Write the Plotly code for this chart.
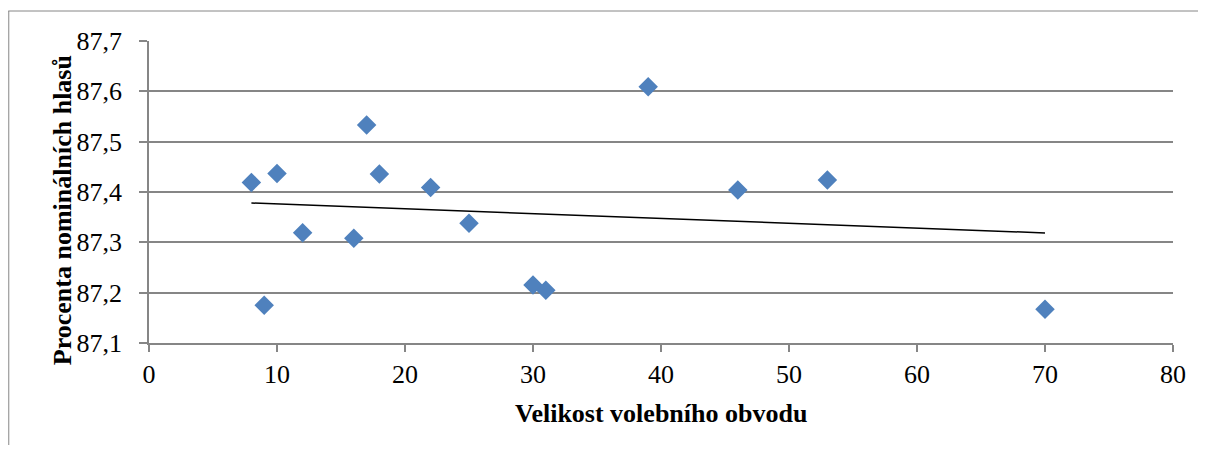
import numpy as np
import plotly.graph_objects as go

# Data
velikost = [8, 9, 10, 12, 16, 17, 18, 22, 25, 30, 31, 39, 46, 53, 70]
procenta = [87.419, 87.175, 87.437, 87.319, 87.308, 87.533, 87.436, 87.409,
            87.338, 87.215, 87.205, 87.609, 87.404, 87.424, 87.167]
y_ticks = [87.1, 87.2, 87.3, 87.4, 87.5, 87.6, 87.7]
x_ticks = [0, 10, 20, 30, 40, 50, 60, 70, 80]

x_title = "Velikost volebního obvodu"
y_title = "Procenta nominálních hlasů"

# linear trend line
slope, intercept = np.polyfit(velikost, procenta, 1)
trend_x = [min(velikost), max(velikost)]
trend_y = [slope * v + intercept for v in trend_x]

# page has an 8px body margin, so the figure is sized to fit inside it
OFF = 8
W, H = 1206 - 2 * OFF, 453 - 2 * OFF
L, T = 149 - OFF, 41 - OFF
R = W - (1175 - OFF)
B = H - (343 - OFF)
pw, ph = W - L - R, H - T - B

def px(x):
    return (x - OFF - L) / pw

def py(y):
    return (H - B - (y - OFF)) / ph

grey = "#868686"
font = "Liberation Serif"

fig = go.Figure()
fig.add_trace(go.Scatter(x=trend_x, y=trend_y, mode="lines",
                         line=dict(color="black", width=1.5),
                         hoverinfo="skip", showlegend=False))
fig.add_trace(go.Scatter(x=velikost, y=procenta, mode="markers",
                         marker=dict(symbol="diamond", size=15, color="#4F81BD",
                                     line=dict(width=0)),
                         showlegend=False))

fig.update_layout(
    width=W, height=H,
    margin=dict(l=L, r=R, t=T, b=B, pad=0),
    paper_bgcolor="white", plot_bgcolor="white",
    separators=", ",
    font=dict(family=font, size=26, color="black"),
    xaxis=dict(range=[0, 80], tickvals=x_ticks, showgrid=False, zeroline=False,
               showline=True, linecolor=grey, linewidth=1.5,
               ticks="outside", ticklen=7, tickcolor=grey, tickwidth=1.5,
               tickfont=dict(family=font, size=26, color="black")),
    yaxis=dict(range=[87.1, 87.7], tickvals=y_ticks, tickformat=".1f",
               showgrid=True, gridcolor=grey, gridwidth=1.5, zeroline=False,
               showline=True, linecolor=grey, linewidth=1.5,
               ticks="outside", ticklen=8, tickcolor=grey, tickwidth=1.5,
               ticklabelstandoff=12,
               tickfont=dict(family=font, size=26, color="black")),
    shapes=[
        dict(type="line", xref="paper", yref="paper", x0=px(8), x1=px(1206),
             y0=py(11), y1=py(11), line=dict(color=grey, width=1)),
        dict(type="line", xref="paper", yref="paper", x0=px(8.5), x1=px(8.5),
             y0=py(11), y1=py(453), line=dict(color=grey, width=1)),
    ],
    annotations=[
        dict(text=x_title, xref="paper", yref="paper", x=px(662), y=py(413),
             showarrow=False, xanchor="center", yanchor="middle",
             font=dict(family=font, size=26, color="black", weight="bold")),
        dict(text=y_title, xref="paper", yref="paper", x=px(62), y=py(210),
             showarrow=False, xanchor="center", yanchor="middle", textangle=-90,
             font=dict(family=font, size=26, color="black", weight="bold")),
    ],
)

fig.write_html("out.html")
